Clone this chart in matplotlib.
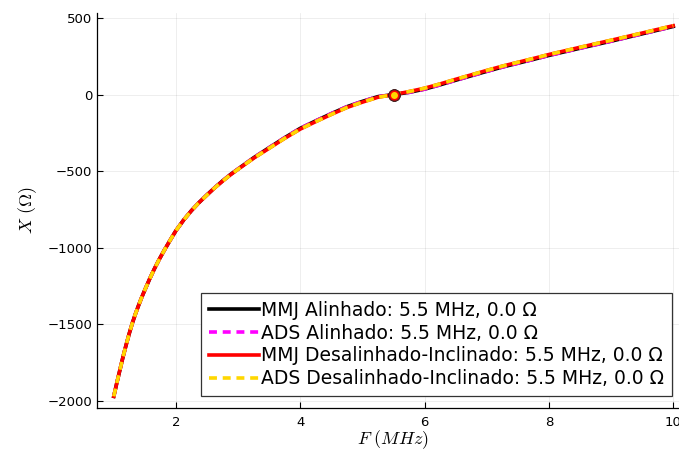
import matplotlib
matplotlib.use("Agg")
import matplotlib.pyplot as plt

# dados
F = [1.0, 1.05, 1.1, 1.15, 1.2, 1.25, 1.3, 1.35, 1.4, 1.45, 1.5, 1.575,
     1.65, 1.725, 1.8, 1.9, 2.0, 2.125, 2.25, 2.375, 2.5, 2.625, 2.75,
     2.875, 3.0, 3.25, 3.5, 3.75, 4.0, 4.25, 4.5, 4.75, 5.0, 5.25, 5.5,
     5.75, 6.0, 6.25, 6.5, 6.75, 7.0, 7.25, 7.5, 7.75, 8.0, 8.5, 9.0,
     9.5, 10.0]

X_desalinhado = [-1970, -1880, -1795, -1710, -1632, -1558, -1490, -1430,
                 -1375, -1323, -1275, -1205, -1140, -1080, -1025, -955,
                 -888, -818, -757, -703, -655, -608, -565, -524, -487,
                 -415, -350, -285, -225, -176, -129, -84, -49, -17, 0,
                 20, 42, 70, 100, 129, 158, 186, 211, 236, 262, 309, 355,
                 402, 450]

X_alinhado = [-1970, -1880, -1795, -1710, -1632, -1558, -1490, -1430,
              -1375, -1323, -1275, -1205, -1140, -1080, -1025, -955,
              -888, -818, -757, -703, -654, -607, -563, -522, -485,
              -412, -346, -281, -220, -171, -124, -79, -44, -13, 0,
              15, 36, 64, 94, 123, 152, 180, 205, 230, 256, 303, 349,
              397, 445]

F_res = 5.5
X_res = 0.0

rotulos = [
    "MMJ Alinhado: 5.5 MHz, 0.0 Ω",
    "ADS Alinhado: 5.5 MHz, 0.0 Ω",
    "MMJ Desalinhado-Inclinado: 5.5 MHz, 0.0 Ω",
    "ADS Desalinhado-Inclinado: 5.5 MHz, 0.0 Ω",
]

plt.rcParams['mathtext.fontset'] = 'cm'

fig = plt.figure(figsize=(6.79, 4.51), dpi=100)
ax = fig.add_axes([97 / 679, 1 - 408 / 451, 593 / 679, 395 / 451])

lw = 2.6
ax.plot(F, X_alinhado, '-', color='black', linewidth=lw, label=rotulos[0])
ax.plot(F, X_alinhado, '--', color='#ff00ff', linewidth=lw,
        dashes=(2.2, 1.6), label=rotulos[1])
ax.plot(F, X_desalinhado, '-', color='red', linewidth=lw, label=rotulos[2])
ax.plot(F, X_desalinhado, '--', color='#ffd700', linewidth=lw,
        dashes=(2.2, 1.6), label=rotulos[3])

# ponto de ressonancia
ax.plot([F_res], [X_res], 'o', color='black', markersize=8)
ax.plot([F_res], [X_res], 'o', color='#ff00ff', markersize=8,
        markeredgecolor='black', markeredgewidth=0.5)
ax.plot([F_res], [X_res], 'o', color='red', markersize=8,
        markeredgecolor='#602020', markeredgewidth=0.8)
ax.plot([F_res], [X_res], 'o', color='#ffd700', markersize=5,
        markeredgewidth=0)

ax.set_xlim(0.73, 10.27)
ax.set_ylim(-2046, 533)
ax.set_xticks([2, 4, 6, 8, 10])
ax.set_yticks([-2000, -1500, -1000, -500, 0, 500])

ax.grid(True, color='black', alpha=0.08, linewidth=0.6)
ax.spines['top'].set_visible(False)
ax.spines['right'].set_visible(False)
ax.spines['left'].set_linewidth(0.9)
ax.spines['bottom'].set_linewidth(0.9)
ax.tick_params(direction='in', length=4, width=0.8, labelsize=9.5,
               colors='black')
ax.tick_params(axis='x', pad=6)

ax.set_xlabel(r'$F\ (MHz)$', fontsize=13, labelpad=-1)
ax.set_ylabel(r'$X\ (\Omega)$', fontsize=13, labelpad=6)

leg = ax.legend(loc='lower right', bbox_to_anchor=(672 / 679, 1 - 396 / 451),
                bbox_transform=fig.transFigure,
                fontsize=13.5, frameon=True, fancybox=False,
                edgecolor='#333333', framealpha=1, handlelength=2.7,
                handletextpad=0.1, labelspacing=0.2, borderpad=0.42,
                borderaxespad=0)
leg.get_frame().set_linewidth(0.9)

fig.savefig("out.png", dpi=100)
